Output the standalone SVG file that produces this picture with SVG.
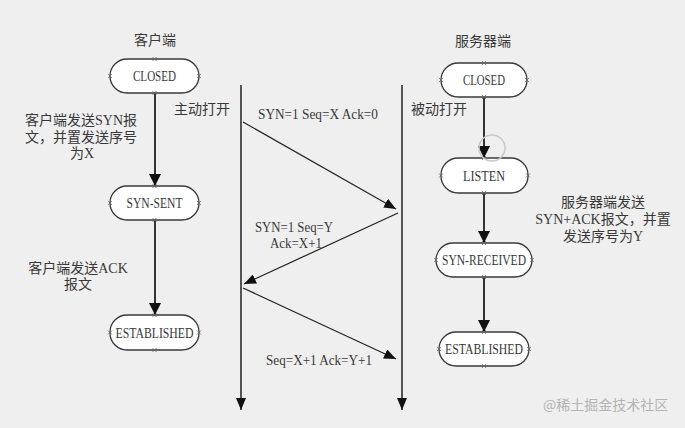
<svg xmlns="http://www.w3.org/2000/svg" width="685" height="428" viewBox="0 0 685 428">
<style>
.bg{fill:#efefef}
.pill{fill:#ffffff;stroke:#3a3a3a;stroke-width:1.3}
.st{font-family:"Liberation Serif","Noto Sans CJK SC",serif;font-size:15px;fill:#383838;text-anchor:middle}
.lbl{font-family:"Liberation Serif","Noto Sans CJK SC",serif;font-size:14px;fill:#383838;text-anchor:middle}
.lbls{font-family:"Liberation Serif","Noto Sans CJK SC",serif;font-size:14px;fill:#383838}
.mk{stroke:#666;stroke-width:0.8;fill:none}
.flow{stroke:#333;stroke-width:2;fill:none;marker-end:url(#ah)}
.msg{stroke:#222;stroke-width:1.2;fill:none;marker-end:url(#am)}
.tl{stroke:#222;stroke-width:1.5;fill:none;marker-end:url(#am)}
.wm{font-family:"Noto Sans CJK SC","Noto Sans",sans-serif;font-size:14px;fill:#b4b4b4}
</style>
<defs>
<marker id="ah" markerUnits="userSpaceOnUse" markerWidth="12" markerHeight="12" refX="12" refY="6" orient="auto" viewBox="0 0 12 12">
<path d="M0,0 L12,6 L0,12 z" fill="#111"/>
</marker>
<marker id="am" markerUnits="userSpaceOnUse" markerWidth="12" markerHeight="10" refX="12" refY="5" orient="auto" viewBox="0 0 12 10">
<path d="M0,0 L12,5 L0,10 z" fill="#111"/>
</marker>
<g id="x"><path class="mk" d="M-2,-2 L2,2 M-2,2 L2,-2"/></g>
</defs>
<rect class="bg" x="0" y="0" width="685" height="428"/>

<g id="titles">
<text class="lbl" x="155" y="45">客户端</text>
<text class="lbl" x="483" y="46">服务器端</text>
</g>

<g id="connectors">
<line class="tl" x1="241" y1="85" x2="241" y2="410"/>
<line class="tl" x1="402" y1="85" x2="402" y2="410"/>
<line class="msg" x1="243" y1="122" x2="396" y2="209"/>
<line class="msg" x1="398" y1="213" x2="244" y2="284"/>
<line class="msg" x1="243" y1="288" x2="396" y2="359"/>
<line class="flow" x1="155" y1="93" x2="155" y2="186"/>
<line class="flow" x1="155" y1="220" x2="155" y2="315"/>
<line class="flow" x1="484" y1="97" x2="484" y2="158"/>
<line class="flow" x1="484" y1="193" x2="484" y2="243"/>
<line class="flow" x1="484" y1="277" x2="484" y2="332"/>
</g>

<g id="c-closed">
<rect class="pill" x="110" y="59" width="89" height="34" rx="17"/>
<text class="st" x="154.5" y="81" textLength="43" lengthAdjust="spacingAndGlyphs">CLOSED</text>
<use href="#x" x="154.5" y="59"/><use href="#x" x="154.5" y="93"/><use href="#x" x="110" y="76"/><use href="#x" x="199" y="76"/>
</g>
<g id="c-synsent">
<rect class="pill" x="110" y="186" width="89" height="34" rx="17"/>
<text class="st" x="154.5" y="208" textLength="56" lengthAdjust="spacingAndGlyphs">SYN-SENT</text>
<use href="#x" x="154.5" y="186"/><use href="#x" x="154.5" y="220"/><use href="#x" x="110" y="203"/><use href="#x" x="199" y="203"/>
</g>
<g id="c-established">
<rect class="pill" x="110" y="315" width="89" height="35" rx="17"/>
<text class="st" x="154.5" y="338" textLength="78" lengthAdjust="spacingAndGlyphs">ESTABLISHED</text>
<use href="#x" x="154.5" y="315"/><use href="#x" x="154.5" y="350"/><use href="#x" x="110" y="332.5"/><use href="#x" x="199" y="332.5"/>
</g>

<g id="s-closed">
<rect class="pill" x="441" y="63" width="86" height="34" rx="17"/>
<text class="st" x="484" y="85" textLength="42" lengthAdjust="spacingAndGlyphs">CLOSED</text>
<use href="#x" x="484" y="63"/><use href="#x" x="484" y="97"/><use href="#x" x="441" y="80"/><use href="#x" x="527" y="80"/>
</g>
<g id="s-listen">
<rect class="pill" x="441" y="158" width="87" height="35" rx="17"/>
<text class="st" x="484" y="181" textLength="42" lengthAdjust="spacingAndGlyphs">LISTEN</text>
<use href="#x" x="484" y="158"/><use href="#x" x="484" y="193"/><use href="#x" x="441" y="175.5"/><use href="#x" x="528" y="175.5"/>
</g>
<g id="s-synreceived">
<rect class="pill" x="436" y="243" width="96" height="34" rx="17"/>
<text class="st" x="484" y="265" textLength="84" lengthAdjust="spacingAndGlyphs">SYN-RECEIVED</text>
<use href="#x" x="484" y="243"/><use href="#x" x="484" y="277"/><use href="#x" x="436" y="260"/><use href="#x" x="532" y="260"/>
</g>
<g id="s-established">
<rect class="pill" x="439" y="332" width="90" height="34" rx="17"/>
<text class="st" x="484" y="354" textLength="78" lengthAdjust="spacingAndGlyphs">ESTABLISHED</text>
<use href="#x" x="484" y="332"/><use href="#x" x="484" y="366"/><use href="#x" x="439" y="349"/><use href="#x" x="529" y="349"/>
</g>

<circle cx="492" cy="148" r="13" fill="none" stroke="#c9c9c9" stroke-width="1.5"/>

<g id="labels">
<text class="lbl" x="81" y="125">客户端发送SYN报</text>
<text class="lbl" x="81" y="142">文，并置发送序号</text>
<text class="lbl" x="82" y="158">为X</text>
<text class="lbls" x="174" y="114">主动打开</text>
<text class="lbls" x="411" y="114">被动打开</text>
<text class="lbl" x="78" y="273">客户端发送ACK</text>
<text class="lbl" x="78" y="289">报文</text>
<text class="lbl" x="603" y="207">服务器端发送</text>
<text class="lbl" x="603" y="224">SYN+ACK报文，并置</text>
<text class="lbl" x="603" y="241">发送序号为Y</text>
<text class="lbl" x="318" y="119" textLength="120" lengthAdjust="spacingAndGlyphs">SYN=1  Seq=X  Ack=0</text>
<text class="lbl" x="294" y="232" textLength="78" lengthAdjust="spacingAndGlyphs">SYN=1  Seq=Y</text>
<text class="lbl" x="296" y="248" textLength="52" lengthAdjust="spacingAndGlyphs">Ack=X+1</text>
<text class="lbl" x="319" y="365" textLength="106" lengthAdjust="spacingAndGlyphs">Seq=X+1  Ack=Y+1</text>
</g>

<text class="wm" x="543" y="410">@稀土掘金技术社区</text>
</svg>
